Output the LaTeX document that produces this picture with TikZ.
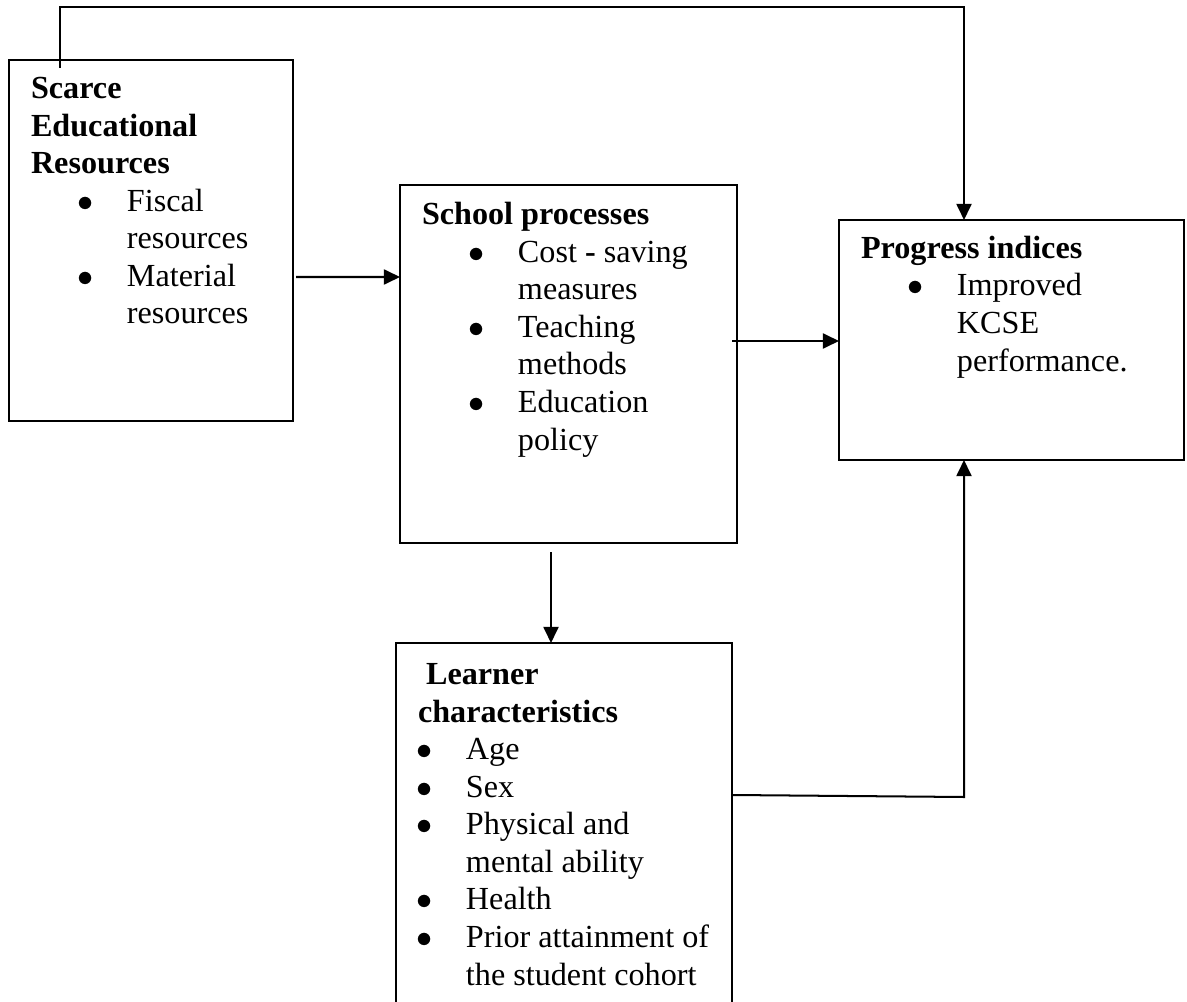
\documentclass[tikz,border=0pt]{standalone}
\usepackage{fontspec}
\setmainfont{Liberation Serif}
\usetikzlibrary{arrows.meta,calc,fit}
\def\pxu{0.373pt}
\newcommand{\bdot}{{\large$\bullet$}}
\newcommand{\bul}[1]{\hspace*{20.5pt}\makebox[0pt]{\bdot}\hspace*{15.3pt}#1}
\newcommand{\bcont}[1]{\hspace*{35.8pt}#1}
\newcommand{\lbul}[1]{\hspace*{2.4pt}\makebox[0pt]{\bdot}\hspace*{15.5pt}#1}
\newcommand{\lcont}[1]{\hspace*{17.9pt}#1}
\begin{document}
\begin{tikzpicture}[x=\pxu,y=-\pxu,line width=0.75pt,
    box/.style={draw,inner sep=0pt,outer sep=0pt},
    txt/.style={align=left,inner sep=0pt,anchor=base west,font=\fontsize{12}{14}\selectfont},
    arr/.style={-{Triangle[length=6pt,width=5.6pt]}}]
  \clip (0,0) rectangle (1187,1002);

  \node[box,fit={(9,60) (293,421)}] (scarce) {};
  \node[box,fit={(400,185) (737,543)}] (school) {};
  \node[box,fit={(839,220) (1184,460)}] (progress) {};
  \node[box,fit={(396,643) (732,1030)}] (learner) {};

  \node[txt] (scarcetxt) at (30,324) {\textbf{Scarce}\\ \textbf{Educational}\\ \textbf{Resources}\\
    \bul{Fiscal}\\ \bcont{resources}\\ \bul{Material}\\ \bcont{resources}};
  \node[txt] (schooltxt) at (421,450) {\textbf{School processes}\\
    \bul{Cost \textbf{-} saving}\\ \bcont{measures}\\ \bul{Teaching}\\ \bcont{methods}\\
    \bul{Education}\\ \bcont{policy}};
  \node[txt] (progresstxt) at (860,371) {\textbf{Progress indices}\\
    \bul{Improved}\\ \bcont{KCSE}\\ \bcont{performance.}};
  \node[txt] (learnertxt) at (417,985) {\hspace*{3pt}\textbf{Learner}\\ \textbf{characteristics}\\
    \lbul{Age}\\ \lbul{Sex}\\ \lbul{Physical and}\\ \lcont{mental ability}\\ \lbul{Health}\\
    \lbul{Prior attainment of}\\ \lcont{the student cohort}};

  \coordinate (fb) at (60,68);
  \coordinate (pin) at ($(progress.north west)+(125,0)$);
  \draw[arr] (fb) -- ++(0,-61) -| (pin);

  \draw[arr] ($(scarce.north east)+(3,217)$) -- ($(school.north west)+(0,92)$);
  \draw[arr] ($(school.north east)+(-5,156)$) -- ($(progress.north west)+(0,121)$);
  \draw[arr] ($(school.south west)+(151,9)$) -- ($(learner.north west)+(155,0)$);
  \draw[arr] ($(learner.north east)+(0,152)$) -- ($(progress.south west)+(125,337)$)
    -- ($(progress.south west)+(125,0)$);
\end{tikzpicture}
\end{document}
